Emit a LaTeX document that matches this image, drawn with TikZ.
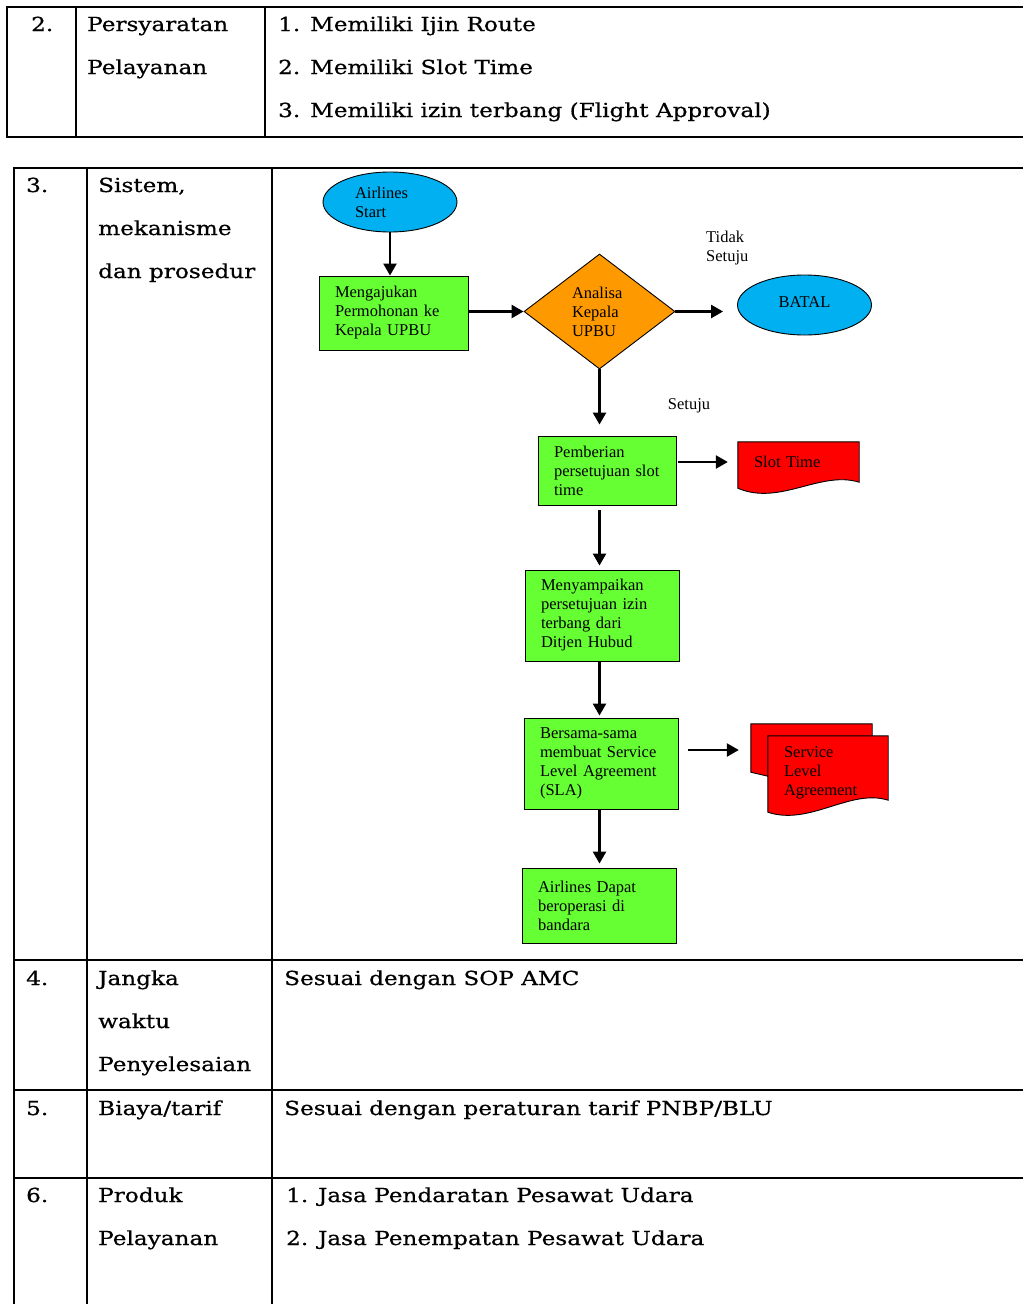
\documentclass[tikz,border=0pt]{standalone}
\usepackage{fontspec}
\setmainfont{Liberation Serif}
\newfontfamily\tabfont[FakeStretch=1.2,FakeBold=0.6]{DejaVu Serif}
\usetikzlibrary{
    arrows.meta,
    backgrounds,
    positioning,
    calc,
    shapes.geometric
}

\definecolor{startblue}{RGB}{0,176,240}
\definecolor{stepgreen}{RGB}{102,255,51}
\definecolor{checkorange}{RGB}{255,153,0}

\begin{document}
\begin{tikzpicture}[
    x=1pt, y=-1pt,
    gridline/.style={line width=1.4pt},
    celltext/.style={anchor=base west, inner sep=0pt,
      font=\tabfont\fontsize{19.3}{43}\selectfont},
    flowfont/.style={font=\fontsize{16.5}{19}\selectfont},
    proses/.style={draw, line width=0.9pt, fill=stepgreen, flowfont,
      align=left, inner xsep=16pt, inner ysep=0pt},
    terminal/.style={draw, line width=0.9pt, ellipse, fill=startblue,
      flowfont, minimum width=134pt, minimum height=60pt, inner sep=0pt},
    keputusan/.style={draw, line width=0.9pt, diamond, fill=checkorange,
      flowfont, align=left, text width=55pt, inner sep=0pt,
      minimum width=151pt, minimum height=115pt},
    dokumen/.style={flowfont, align=left, inner xsep=16pt, inner ysep=0pt},
    docsheet/.style={fill=red, draw=black, line width=0.9pt},
    panah/.style={line width=2.5pt, -{Triangle[length=12pt,width=13pt]}}
  ]

  \useasboundingbox (0,0) rectangle (1023,1304);

  % table, row 2 {{{
  \draw[gridline] (1023,7) -- (7,7) -- (7,137) -- (1023,137);
  \draw[gridline] (76,7) -- (76,137);
  \draw[gridline] (265,7) -- (265,137);

  \node[celltext] (no2) at (31,31) {2.};
  \node[celltext] (judul2a) at (87,31) {Persyaratan};
  \node[celltext] (judul2b) at (87,74) {Pelayanan};
  \node[celltext] (isi2a) at (278,31) {1. Memiliki Ijin Route};
  \node[celltext] (isi2b) at (278,74) {2. Memiliki Slot Time};
  \node[celltext] (isi2c) at (278,117) {3. Memiliki izin terbang (Flight Approval)};
  % }}}

  % table, rows 3 to 6 {{{
  \draw[gridline] (1023,168) -- (14,168) -- (14,1304);
  \draw[gridline] (87,168) -- (87,1304);
  \draw[gridline] (272,168) -- (272,1304);
  \foreach \garis in {960,1090,1178}
    \draw[gridline] (14,\garis) -- (1023,\garis);

  \node[celltext] (no3) at (26,192) {3.};
  \node[celltext] (judul3a) at (98,192) {Sistem,};
  \node[celltext] (judul3b) at (98,235) {mekanisme};
  \node[celltext] (judul3c) at (98,278) {dan prosedur};

  \node[celltext] (no4) at (26,985) {4.};
  \node[celltext] (judul4a) at (98,985) {Jangka};
  \node[celltext] (judul4b) at (98,1028) {waktu};
  \node[celltext] (judul4c) at (98,1071) {Penyelesaian};
  \node[celltext] (isi4) at (284,985) {Sesuai dengan SOP AMC};

  \node[celltext] (no5) at (26,1115) {5.};
  \node[celltext] (judul5) at (98,1115) {Biaya/tarif};
  \node[celltext] (isi5) at (284,1115) {Sesuai dengan peraturan tarif PNBP/BLU};

  \node[celltext] (no6) at (26,1202) {6.};
  \node[celltext] (judul6a) at (98,1202) {Produk};
  \node[celltext] (judul6b) at (98,1245) {Pelayanan};
  \node[celltext] (isi6a) at (286,1202) {1. Jasa Pendaratan Pesawat Udara};
  \node[celltext] (isi6b) at (286,1245) {2. Jasa Penempatan Pesawat Udara};
  % }}}

  % flowchart {{{
  \node[terminal] (start) at (390,202)
    {\raisebox{-5pt}{\parbox{70pt}{\raggedright Airlines\\Start}}};
  \node[proses, text width=117pt, minimum height=74pt] (ajukan) at (393.5,313)
    {Mengajukan\\Permohonan ke\\Kepala UPBU};
  \node[keputusan] (analisa) at (599.5,311.5)
    {Analisa\\Kepala\\UPBU};
  \node[terminal] (batal) at (804.5,305) {\raisebox{5pt}{BATAL}};
  \node[flowfont, anchor=west, align=left, inner sep=0pt] (tidak) at (706,248)
    {Tidak\\Setuju};
  \node[flowfont, inner sep=0pt] (setuju) at (689,406) {Setuju};

  \node[proses, text width=106pt, minimum height=69pt] (slotok) at (607,470.5)
    {Pemberian\\persetujuan slot\\time};
  \node[dokumen, text width=89pt, minimum height=40pt] (slot) at (798.5,462)
    {Slot Time};

  \node[proses, text width=122pt, minimum height=91pt] (izin) at (602,615.5)
    {Menyampaikan\\persetujuan izin\\terbang dari\\Ditjen Hubud};
  \node[proses, text width=122pt, minimum height=91pt] (sla) at (601,763.5)
    {Bersama-sama\\membuat Service\\Level Agreement\\(SLA)};
  \node[dokumen, text width=89pt, minimum height=52pt] (slaback) at (811.5,750) {};
  \node[dokumen, text width=88pt, minimum height=74pt] (sladoc) at (828,773)
    {Service\\Level\\Agreement};
  \node[proses, text width=122pt, minimum height=75pt] (operasi) at (599,905.5)
    {Airlines Dapat\\beroperasi di\\bandara};

  \begin{scope}[on background layer]
    \fill[white] (0,0) rectangle (1023,1304);
    % slot time sheet
    \filldraw[docsheet] (slot.south west) -- (slot.north west) -- (slot.north east)
      -- (slot.south east)
      .. controls ($(slot.south east)+(-39,-12)$) and ($(slot.south west)+(42,24)$)
      .. ($(slot.south west)+(0,6)$) -- cycle;
    % sla sheets
    \filldraw[docsheet] (slaback.north west) -- (slaback.north east)
      -- ($(slaback.north east)+(0,20)$) -- ($(slaback.south west)+(17,0)$)
      -- ($(slaback.south west)+(0,-4)$) -- cycle;
    \filldraw[docsheet] (sladoc.south west) -- (sladoc.north west) -- (sladoc.north east)
      -- ($(sladoc.south east)+(0,-10)$)
      .. controls ($(sladoc.south east)+(-38,-22)$) and ($(sladoc.south west)+(42,16)$)
      .. ($(sladoc.south west)+(0,2)$) -- cycle;
  \end{scope}

  \draw[panah] (start.south) -- (start.south |- ajukan.north);
  \draw[panah] (ajukan.east |- analisa.west) -- (analisa.west);
  \draw[panah, shorten >=14pt] (analisa.east) -- (batal.west |- analisa.east);
  \draw[panah, shorten >=11pt] (analisa.south) -- (analisa.south |- slotok.north);
  \draw[panah, shorten <=2pt, shorten >=10pt] (slotok.east |- slot.west) -- (slot.west);
  \draw[panah, shorten <=5pt, shorten >=4pt]
    (analisa.south |- slotok.south) -- (analisa.south |- izin.north);
  \draw[panah, shorten >=2pt]
    (analisa.south |- izin.south) -- (analisa.south |- sla.north);
  \draw[panah, shorten <=10pt, shorten >=12pt] (sla.east |- slaback.west) -- (slaback.west);
  \draw[panah, shorten >=4pt]
    (analisa.south |- sla.south) -- (analisa.south |- operasi.north);
  % }}}

\end{tikzpicture}
\end{document}
